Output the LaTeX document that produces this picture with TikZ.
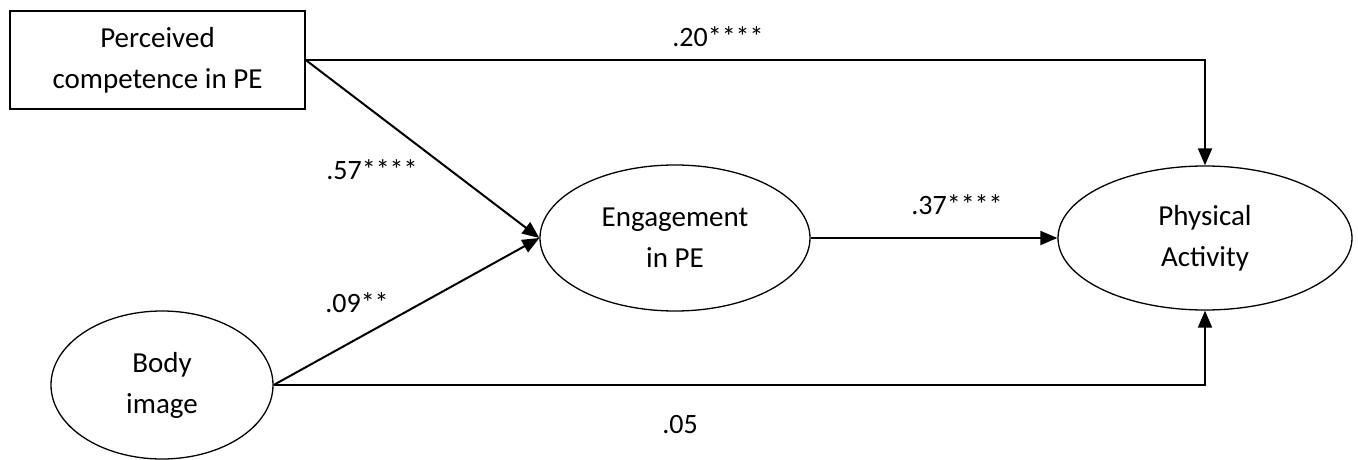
\documentclass[tikz,border=0pt]{standalone}
\usepackage{fontspec}
\setmainfont{Carlito}
\usetikzlibrary{arrows.meta,shapes.geometric}
\begin{document}
\begin{tikzpicture}[x=1pt,y=-1pt,
  nodetext/.style={font=\fontsize{29}{41}\selectfont, align=center, inner sep=0pt},
  boxnode/.style={nodetext, draw, line width=1.4pt, minimum width=295pt, minimum height=98pt},
  ellnode/.style={nodetext, draw, ellipse, line width=1.3pt},
  conn/.style={line width=2pt, -{Triangle[length=17pt,width=14pt]}},
  lbl/.style={font=\fontsize{28}{32}\selectfont, inner sep=0pt}]
\useasboundingbox (0,0) rectangle (1358,460);
\node[boxnode] (pc) at (157.5,60) {Perceived\\competence in PE};
\node[ellnode, minimum width=270pt, minimum height=146pt] (eng) at (675,238) {Engagement\\in PE};
\node[ellnode, minimum width=294pt, minimum height=144pt] (pa) at (1205,238) {Physical\\Activity};
\node[ellnode, minimum width=222pt, minimum height=148pt] (bi) at (162,385) {Body\\image};
\draw[conn] (pc.east) -| (pa.north);
\draw[conn] (pc.east) -- (eng.west);
\draw[conn] (bi.east) -- (eng.west);
\draw[conn] (bi.east) -| (pa.south);
\draw[conn] (eng.east) -- (pa.west);
\node[lbl] (l20) at (718,37) {.20****};
\node[lbl] (l57) at (372,170) {.57****};
\node[lbl] (l09) at (357,303) {.09**};
\node[lbl] (l37) at (957,205) {.37****};
\node[lbl] (l05) at (680,425) {.05};
\end{tikzpicture}
\end{document}
